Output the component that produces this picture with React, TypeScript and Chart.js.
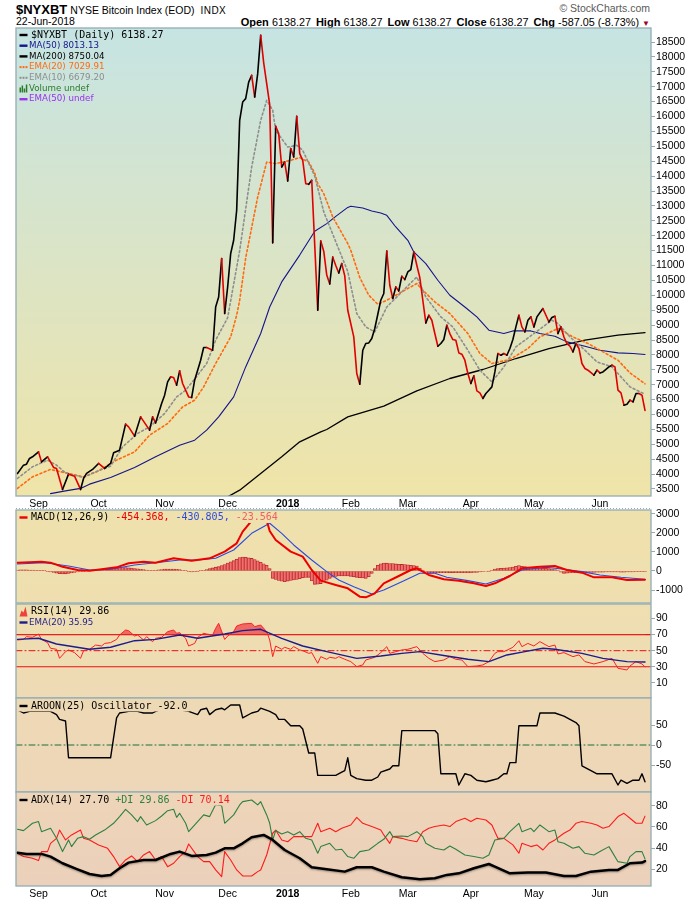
import React, { useEffect, useRef } from "react";
import { Chart, registerables } from "chart.js";

Chart.register(...registerables);

// ---------------- data ----------------
// x values are trading-day numbers (0 = 23-Aug-2017, 209 = 22-Jun-2018)
const MONTH_DAYS = [7, 27, 49, 70, 90, 111, 130, 151, 172, 194];
const MONTH_LABELS = ["Sep", "Oct", "Nov", "Dec", "2018", "Feb", "Mar", "Apr", "May", "Jun"];
const DAY_MIN = -0.5;
const DAY_MAX = 211;

const PRICE_TICKS = [3500, 4000, 4500, 5000, 5500, 6000, 6500, 7000, 7500, 8000, 8500, 9000, 9500, 10000, 10500, 11000, 11500, 12000, 12500, 13000, 13500, 14000, 14500, 15000, 15500, 16000, 16500, 17000, 17500, 18000, 18500];
const MACD_TICKS = [-1000, 0, 1000, 2000, 3000];
const RSI_TICKS = [10, 30, 50, 70, 90];
const AROON_TICKS = [-50, 0, 50];
const ADX_TICKS = [20, 40, 60, 80];
const RSI_BANDS = [70, 30];
const RSI_MID = 50;
const AROON_MID = 0;

const PRICE = [[0,4020],[2,4300],[3,4333],[4,4525],[5,4580],[7,4746],[8,4410],[10,4580],[11,4410],[12,4223],[13,4190],[15,3485],[17,3998],[18,3964],[19,3930],[21,3485],[22,3854],[23,4022],[25,4156],[27,4357],[29,4190],[31,4357],[32,4713],[34,4803],[36,5675],[37,5585],[39,5273],[41,5920],[44,5474],[45,5920],[46,5719],[48,6370],[49,6648],[50,7094],[51,7262],[52,7242],[53,6983],[54,7463],[55,7040],[57,6590],[58,6570],[59,7150],[61,7822],[62,8247],[63,8247],[65,8157],[66,9609],[67,9945],[68,11233],[69,9388],[70,10280],[71,11400],[72,11847],[73,12853],[74,15871],[75,16485],[76,16600],[77,17156],[78,17380],[79,16653],[80,17437],[81,18722],[82,17800],[83,17100],[84,16400],[85,11760],[86,15670],[87,15425],[88,14305],[89,14473],[90,13835],[91,14922],[92,14640],[93,16005],[94,14754],[95,14530],[96,13748],[97,13725],[98,13859],[100,9499],[101,11823],[102,11480],[103,10680],[104,10380],[105,11280],[106,11000],[107,10750],[108,11065],[109,10650],[110,9499],[112,8603],[113,7375],[114,7017],[115,8157],[116,8382],[117,8402],[118,8549],[119,8885],[121,9834],[122,10059],[123,11488],[124,10337],[125,9891],[126,10281],[127,10146],[128,10639],[129,10528],[130,10783],[131,10864],[132,11454],[133,11008],[134,10595],[135,9834],[136,9073],[137,9331],[138,9164],[139,8717],[140,8291],[141,8382],[142,8516],[143,8996],[144,8717],[145,8516],[146,8493],[147,8067],[148,8023],[149,7822],[150,7375],[151,7040],[152,7300],[153,6793],[154,6725],[155,6537],[156,6705],[157,6815],[158,6927],[159,7430],[160,8046],[161,7989],[162,8046],[163,7989],[164,8214],[165,8516],[166,8939],[167,9331],[168,8939],[169,8771],[170,9164],[171,9275],[172,8939],[173,9275],[175,9555],[176,9331],[177,9107],[178,9254],[179,9298],[180,8717],[181,8939],[182,8600],[183,8380],[184,8291],[185,8101],[186,8382],[187,8214],[188,7711],[189,7543],[190,7487],[192,7319],[193,7487],[194,7396],[195,7430],[197,7597],[198,7654],[199,7597],[200,6815],[201,6725],[202,6313],[203,6346],[204,6480],[205,6424],[206,6705],[207,6705],[208,6648],[209,6138]];

const MA50 = [[11,3345],[16,3438],[21,3520],[24,3663],[31,3887],[39,4223],[46,4580],[54,4970],[59,5138],[63,5474],[67,5920],[72,6590],[76,7597],[81,8717],[84,9609],[88,10450],[94,11350],[99,12150],[103,12406],[106,12650],[110,12950],[111,12987],[115,12930],[118,12829],[121,12762],[123,12685],[126,12293],[130,11847],[132,11454],[136,11065],[140,10505],[144,10002],[149,9609],[153,9275],[157,8828],[162,8717],[165,8805],[171,8805],[174,8717],[179,8627],[183,8437],[189,8291],[194,8157],[200,8067],[205,8046],[209,8013]];

const MA200 = [[70,3237],[74,3461],[81,4022],[88,4580],[94,5082],[101,5417],[103,5497],[110,5920],[122,6279],[133,6793],[144,7208],[155,7510],[166,7879],[177,8214],[189,8493],[200,8661],[209,8750]];

const EMA20 = [[0,3520],[5,3908],[11,4156],[16,4042],[22,3908],[27,4110],[33,4468],[39,4746],[44,5306],[50,5698],[55,6255],[59,6480],[62,6927],[66,7711],[71,8603],[73,9331],[74,9834],[76,11250],[80,13299],[83,14473],[86,14419],[91,14530],[94,14620],[97,14473],[99,14100],[100,13748],[102,13413],[105,12628],[110,11736],[111,11511],[114,10600],[117,10002],[120,9700],[123,9834],[128,10114],[133,10394],[135,10170],[139,9777],[144,9388],[150,8717],[154,8046],[158,7711],[164,7845],[170,8214],[174,8603],[180,8885],[185,8603],[190,8382],[194,8157],[200,7822],[204,7396],[209,7030]];

const EMA10 = [[0,3854],[5,4245],[10,4468],[13,4300],[16,4042],[22,3887],[26,4075],[31,4267],[35,4914],[40,5363],[44,5585],[49,6033],[53,6590],[56,6815],[60,7319],[63,7711],[66,8493],[70,9250],[74,11500],[78,14305],[81,15871],[83,16542],[85,16207],[86,15536],[90,14976],[93,15033],[95,14865],[99,14000],[102,12800],[106,11800],[110,10800],[113,9388],[116,8939],[119,8771],[123,9609],[128,10114],[133,10616],[136,9945],[141,9275],[145,8939],[150,8157],[154,7487],[158,7094],[162,7597],[166,8268],[172,8717],[178,9164],[180,9053],[184,8603],[189,8157],[193,7766],[198,7597],[201,7262],[204,6927],[209,6679]];

const MACD = [[0,436],[8,488],[11,436],[15,226],[20,52],[24,17],[28,87],[33,192],[37,402],[42,488],[46,436],[52,665],[58,542],[64,665],[69,1015],[73,1452],[75,2065],[77,2450],[79,2800],[81,2950],[83,2650],[84,2100],[86,1627],[91,1015],[95,752],[98,52],[101,-507],[106,-735],[110,-910],[114,-1349],[116,-1383],[119,-1172],[122,-647],[127,-262],[131,52],[133,140],[137,-210],[142,-437],[147,-507],[152,-647],[156,-787],[159,-647],[164,-262],[168,140],[174,226],[179,262],[183,52],[188,-87],[192,-332],[198,-332],[203,-472],[209,-454]];

const MACD_SIGNAL = [[0,367],[9,436],[17,262],[24,52],[31,87],[39,315],[46,436],[54,577],[60,577],[66,665],[72,1102],[78,1977],[84,2503],[88,1977],[92,1365],[98,577],[103,-35],[107,-472],[112,-822],[118,-1207],[122,-997],[128,-560],[134,-122],[139,-122],[143,-332],[150,-507],[156,-682],[162,-385],[168,52],[176,192],[182,87],[188,-35],[194,-210],[201,-332],[209,-431]];

// one histogram bar per trading day, 0..209
const MACD_HIST = [
  50, 55, 60, 55, 50, 45, 40, 30, 20, 10,
  -20, -50, -80, -110, -140, -157, -150, -130, -100, -70,
  -50, -30, -15, 0, 15, 30, 45, 60, 75, 90,
  110, 130, 150, 165, 175, 180, 175, 165, 150, 130,
  110, 90, 70, 50, 40, 30, 40, 60, 80, 100,
  105, 105, 100, 90, 70, 40, 10, -40, -50, -30,
  -10, 10, 40, 80, 120, 160, 200, 227, 280, 340,
  420, 480, 540, 620, 700, 735, 720, 690, 660, 600,
  530, 460, 380, 300, 120, -385, -440, -500, -540, -560,
  -530, -500, -472, -440, -400, -360, -340, -332, -520, -700,
  -690, -660, -580, -480, -385, -330, -290, -262, -260, -262,
  -262, -280, -300, -332, -350, -370, -385, -300, -122, 120,
  300, 380, 420, 410, 395, 385, 370, 355, 345, 335,
  320, 300, 285, 260, 150, 52, -40, -122, -110, -100,
  -95, -90, -87, -87, -85, -85, -87, -90, -90, -88,
  -87, -87, -80, -70, -55, -40, -25, -10, 40, 100,
  120, 140, 155, 165, 175, 210, 250, 280, 250, 227,
  200, 185, 170, 160, 150, 145, 140, 120, 100, 75,
  52, -60, -122, -110, -100, -95, -90, -87, -85, -80,
  -75, -70, -70, -65, -60, -60, -55, -55, -50, -50,
  -55, -60, -60, -55, -50, -45, -40, -35, -30, -24,
];

const RSI = [[0,63.3],[2,64],[3,67.4],[5,66.6],[7,70.7],[8,64],[10,60],[11,53],[13,51.7],[14,40.5],[16,48.8],[17,50.9],[19,47.6],[21,40.5],[22,50],[24,51.7],[26,57],[28,55.8],[29,59],[31,60],[33,64],[34,69.5],[36,75.7],[37,74.9],[39,68.2],[40,69.5],[42,63.3],[43,67.4],[45,61.2],[46,65.4],[48,66.6],[50,73.6],[52,75.7],[53,71.6],[54,72.4],[56,65.4],[57,55.8],[59,59],[60,66.6],[62,71.6],[63,70.7],[65,69.5],[66,77.8],[67,84],[69,64],[70,68.2],[72,73.6],[73,80.7],[75,83.2],[78,84],[79,79.9],[81,81.9],[83,73.6],[84,63.3],[85,42.6],[86,55.8],[88,51.7],[89,54.2],[91,51.7],[92,55],[94,50.9],[95,50],[97,46.7],[98,47.6],[100,34.3],[101,42.6],[103,39.3],[104,41.8],[106,40.5],[107,42.6],[109,39.3],[111,36.4],[113,30.2],[115,32.3],[116,38.4],[119,41.8],[121,47.6],[123,55],[124,46.7],[126,48.8],[128,50.9],[130,51.7],[133,55],[135,46.7],[137,40.5],[139,36.4],[142,38.4],[144,42.6],[146,39.3],[148,38.4],[150,30.2],[153,31],[155,32.3],[157,36.4],[159,46.7],[160,48.8],[162,48.8],[165,54.2],[167,62.4],[168,55],[170,59],[172,55.8],[174,61.2],[177,55],[179,57],[180,45.9],[182,47.6],[185,42.6],[187,44.7],[189,36.4],[192,33.5],[195,36.4],[198,40.5],[200,28.1],[203,26],[204,31],[206,36.4],[208,33.5],[209,29.86]];

const RSI_EMA = [[0,64],[7,65.4],[13,58.3],[24,51.7],[31,54.2],[39,62.4],[46,64],[54,69.5],[60,65.4],[69,70.7],[75,74.9],[81,76.6],[88,65.4],[95,55.8],[103,48.8],[113,40.5],[121,43.4],[128,46.7],[134,48.8],[143,43.4],[150,39.3],[157,36.4],[163,44.7],[169,48.8],[175,53],[179,51.7],[188,46.7],[195,40.5],[203,36.4],[209,35.95]];

const AROON = [[0,88],[2,80],[4,84],[8,84],[11,84],[13,76],[14,64],[16,60],[17,-32],[31,-32],[33,68],[34,80],[37,84],[40,84],[42,80],[45,80],[46,84],[49,92],[52,92],[54,88],[57,84],[60,76],[61,88],[63,92],[64,76],[66,88],[68,92],[69,88],[71,100],[74,100],[75,68],[78,80],[80,84],[81,92],[84,84],[86,76],[87,64],[89,64],[91,48],[94,48],[95,40],[97,-20],[99,-20],[100,-76],[106,-76],[108,-68],[109,-64],[110,-32],[111,-76],[113,-84],[116,-88],[118,-88],[120,-80],[121,-68],[124,-60],[125,-52],[127,-52],[128,36],[139,36],[140,28],[141,-72],[146,-72],[147,-100],[149,-72],[151,-76],[153,-88],[156,-92],[158,-88],[160,-84],[162,-72],[163,-72],[164,-44],[166,-44],[167,48],[173,48],[174,80],[179,80],[182,72],[184,64],[186,56],[187,48],[188,-52],[191,-64],[193,-72],[198,-72],[200,-100],[201,-88],[203,-96],[205,-88],[207,-88],[208,-72],[209,-92]];

const ADX = [[0,35.7],[3,34.5],[8,34.5],[11,32],[15,25.7],[20,20],[24,15.6],[28,13.7],[31,14.7],[34,21],[37,26.3],[42,28.8],[46,28.8],[51,34.5],[54,36.7],[58,32.6],[63,33.5],[66,35.7],[69,39.8],[72,39.8],[75,44.5],[78,50.2],[82,52.4],[85,47.7],[89,38.2],[94,30.4],[98,21.9],[103,20],[109,17.8],[113,21.9],[118,21.9],[122,17.8],[128,12.5],[134,10.6],[139,11.5],[143,14.7],[147,16.2],[152,21],[157,25],[159,22.5],[164,16.2],[170,16.9],[176,16.9],[182,13.7],[186,13.7],[191,17.8],[197,19.4],[200,19.4],[204,25.7],[208,26.3],[209,27.7]];

const PLUS_DI = [[0,57.7],[2,56.5],[5,63.4],[7,65],[8,55.5],[11,58.7],[13,49.2],[15,36.7],[17,47.7],[18,41.4],[20,49.2],[22,50.8],[24,48.3],[26,52.4],[29,57],[32,63.4],[34,69.7],[36,76.6],[38,71.3],[40,65],[41,69.7],[43,61.8],[46,65.9],[48,70.3],[50,75.3],[52,76.6],[53,69],[54,72.8],[56,63.4],[57,55.5],[60,65],[62,71.3],[64,69.7],[66,81],[68,80],[69,63.4],[72,71.3],[74,80.7],[75,83.8],[78,85.4],[80,80.7],[81,83.8],[83,71.3],[84,63.4],[85,47.7],[86,56.5],[88,53.3],[90,55.5],[92,52.4],[94,55.5],[96,49.2],[98,47.7],[100,35.1],[101,41.4],[104,44.5],[106,38.2],[108,38.9],[110,32],[112,30.4],[114,36.7],[117,38.2],[120,44.5],[122,48.3],[124,55.5],[125,50.8],[128,51.4],[130,50.8],[133,55.5],[135,50.8],[136,44.5],[139,39.8],[142,38.2],[144,42],[146,38.9],[149,33.5],[152,32],[155,30.4],[157,33.5],[159,47.7],[162,49.2],[164,55.5],[167,63.4],[168,55.5],[171,58.7],[172,55.5],[174,61.8],[177,55.5],[179,57],[180,46],[182,44.5],[185,39.8],[187,41.4],[189,35.1],[192,33.5],[194,36.7],[197,41.4],[198,36.7],[200,27.2],[203,25.7],[204,32],[206,36.7],[208,36.7],[209,29.86]];

const MINUS_DI = [[0,35.1],[2,32],[5,30.4],[7,28.2],[8,36.7],[10,36.7],[11,44.5],[13,49.2],[14,57],[16,47.7],[18,52.4],[21,57],[22,49.2],[24,47.7],[27,43],[30,39.8],[32,32],[34,22.5],[36,28.8],[38,32.6],[40,27.2],[42,33.5],[44,36.7],[46,28.8],[48,32],[50,22.5],[52,25.7],[54,32],[56,36.7],[57,43.9],[60,32],[62,27.2],[64,27.2],[66,19.4],[68,13.1],[69,36.7],[71,28.8],[73,19.4],[75,13.7],[78,13.7],[80,17.8],[81,19.4],[83,33.5],[85,54],[86,57],[88,47.7],[90,46],[92,50.8],[95,50.8],[98,50.8],[100,63.4],[101,55.5],[104,58.7],[106,55.5],[108,58.7],[111,61.8],[113,69],[115,63.4],[118,60.3],[121,57],[122,52.4],[124,44.5],[125,50.8],[128,49.2],[130,47.7],[133,46],[135,55.5],[137,58.7],[139,60.3],[142,61.8],[144,60.3],[146,65],[149,68.1],[151,65],[153,68.1],[156,66.5],[158,61.8],[160,49.2],[162,49.2],[165,43],[167,35.1],[168,44.5],[171,41.4],[173,43],[175,38.2],[177,44.5],[179,47.7],[182,54],[184,57],[186,63.4],[188,65],[191,63.4],[193,61.8],[195,58.7],[197,60.3],[200,69.7],[202,72.8],[204,68.1],[206,63.4],[208,63.4],[209,70.14]];

// ---------------- styling ----------------
const SANS = "'Liberation Sans', Arial, Helvetica, sans-serif";
const PROP_FONT = "8.7px 'DejaVu Sans', Verdana, sans-serif";
const MONO_FONT = "10px 'DejaVu Sans Mono', 'Liberation Mono', monospace";
const FRAME = "#93adb4";

const xy = (pairs: number[][]) => pairs.map((p) => ({ x: p[0], y: p[1] }));

function xScale(show: boolean, h: number) {
  return {
    type: "linear",
    min: DAY_MIN,
    max: DAY_MAX,
    offset: false,
    display: show,
    afterBuildTicks: (s: any) => {
      s.ticks = MONTH_DAYS.map((v) => ({ value: v }));
    },
    afterFit: (s: any) => {
      s.height = h;
    },
    grid: { drawOnChartArea: false, drawTicks: false },
    border: { display: false },
    ticks: {
      autoSkip: false,
      maxRotation: 0,
      padding: 2,
      color: "#000",
      font: (c: any) => ({ family: SANS, size: 10.5, weight: c.index === 4 ? "bold" : "normal" }),
      callback: (v: any) => {
        const k = MONTH_DAYS.indexOf(v);
        return k >= 0 ? MONTH_LABELS[k] : "";
      },
    },
  };
}

function yScale(min: number, max: number, ticks: number[]) {
  return {
    type: "linear",
    position: "right",
    min,
    max,
    afterBuildTicks: (s: any) => {
      s.ticks = ticks.map((v) => ({ value: v }));
    },
    afterFit: (s: any) => {
      s.width = 49;
    },
    grid: { drawOnChartArea: false, drawTicks: true, tickLength: 4, color: FRAME },
    border: { display: false },
    ticks: { autoSkip: false, padding: 1, color: "#000", font: { family: SANS, size: 10.5 }, callback: (v: any) => String(v) },
  };
}

function drawMarker(ctx: CanvasRenderingContext2D, kind: string, color: string, x: number, y: number) {
  ctx.save();
  ctx.fillStyle = color;
  if (kind === "line") ctx.fillRect(x, y - 1.2, 8, 2.4);
  else if (kind === "dots") {
    for (let k = 0; k < 3; k++) ctx.fillRect(x + k * 3, y - 1, 2, 2);
  } else if (kind === "bars") {
    const hs = [5, 7, 4, 8];
    hs.forEach((h, k) => ctx.fillRect(x + k * 2.1, y + 4 - h, 1.5, h));
  } else if (kind === "area") {
    ctx.beginPath();
    ctx.moveTo(x, y + 5);
    ctx.lineTo(x + 2, y - 1);
    ctx.lineTo(x + 4, y + 1);
    ctx.lineTo(x + 6, y - 5);
    ctx.lineTo(x + 8, y + 5);
    ctx.closePath();
    ctx.fill();
  }
  ctx.restore();
}

type Part = { t: string; c: string };
type Row = { y: number; mark: string; mc: string; mono?: boolean; parts: Part[] };

function panelPlugin(bgTop: string, bgBottom: string, rows: Row[], dotted?: boolean) {
  let grad: any = null;
  return {
    id: "panel",
    beforeDraw(chart: any) {
      const { ctx, chartArea: a } = chart;
      grad = ctx.createLinearGradient(0, a.top, 0, a.bottom);
      grad.addColorStop(0, bgTop);
      grad.addColorStop(1, bgBottom);
      ctx.save();
      ctx.fillStyle = grad;
      ctx.fillRect(a.left, a.top, a.right - a.left, a.bottom - a.top);
      ctx.restore();
    },
    afterDatasetsDraw(chart: any) {
      const { ctx, chartArea: a } = chart;
      ctx.save();
      ctx.textBaseline = "middle";
      for (const r of rows) {
        ctx.font = r.mono ? MONO_FONT : PROP_FONT;
        const y = a.top + r.y;
        let w = 0;
        for (const p of r.parts) w += ctx.measureText(p.t).width;
        ctx.fillStyle = grad;
        ctx.fillRect(a.left + 1, y - 5.5, 16 + w, 11);
        drawMarker(ctx, r.mark, r.mc, a.left + 3.5, y);
        let x = a.left + (r.mono ? 15 : 13);
        for (const p of r.parts) {
          ctx.fillStyle = p.c;
          ctx.fillText(p.t, x, y);
          x += ctx.measureText(p.t).width;
        }
      }
      ctx.strokeStyle = FRAME;
      ctx.lineWidth = 1.3;
      ctx.strokeRect(a.left, a.top, a.right - a.left, a.bottom - a.top);
      if (dotted) {
        ctx.setLineDash([1, 2]);
        ctx.lineWidth = 1;
        ctx.beginPath();
        ctx.moveTo(a.left, a.bottom + 12.5);
        ctx.lineTo(a.right, a.bottom + 12.5);
        ctx.stroke();
      }
      ctx.restore();
    },
  };
}

function baseOptions(yMin: number, yMax: number, ticks: number[], showX: boolean, xh: number, padBottom: number) {
  return {
    responsive: false,
    maintainAspectRatio: false,
    animation: false,
    events: [],
    layout: { padding: { left: 16, right: 0, top: 10, bottom: padBottom } },
    plugins: { legend: { display: false }, tooltip: { enabled: false } },
    elements: { point: { radius: 0, hoverRadius: 0 }, line: { tension: 0, borderJoinStyle: "round", borderCapStyle: "round" } },
    scales: { x: xScale(showX, xh), y: yScale(yMin, yMax, ticks) },
  };
}

const span = (v: number) => [{ x: DAY_MIN, y: v }, { x: DAY_MAX, y: v }];

function mainConfig(): any {
  return {
    type: "line",
    data: {
      datasets: [
        {
          data: xy(PRICE),
          borderColor: "#000",
          borderWidth: 1.6,
          segment: { borderColor: (c: any) => (c.p1.parsed.y < c.p0.parsed.y ? "#e00000" : "#000") },
        },
        { data: xy(EMA10), borderColor: "#8e8e8e", borderWidth: 1.6, borderDash: [2, 2.5] },
        { data: xy(EMA20), borderColor: "#ff6a10", borderWidth: 1.6, borderDash: [2, 2.5] },
        { data: xy(MA50), borderColor: "#14148c", borderWidth: 1.1 },
        { data: xy(MA200), borderColor: "#000", borderWidth: 1.3 },
      ],
    },
    options: baseOptions(3265, 18970, PRICE_TICKS, true, 16, 0),
    plugins: [
      panelPlugin(
        "#c6e4e3",
        "#f0e4a8",
        [
          { y: 7, mark: "line", mc: "#000", mono: true, parts: [{ t: "$NYXBT (Daily) 6138.27", c: "#000" }] },
          { y: 17.7, mark: "line", mc: "#14148c", parts: [{ t: "MA(50) 8013.13", c: "#14148c" }] },
          { y: 28.4, mark: "line", mc: "#000", parts: [{ t: "MA(200) 8750.04", c: "#000" }] },
          { y: 39.1, mark: "dots", mc: "#ff6a10", parts: [{ t: "EMA(20) 7029.91", c: "#ff6a10" }] },
          { y: 49.8, mark: "dots", mc: "#8e8e8e", parts: [{ t: "EMA(10) 6679.20", c: "#8e8e8e" }] },
          { y: 60.5, mark: "bars", mc: "#2a7a2a", parts: [{ t: "Volume undef", c: "#2a7a2a" }] },
          { y: 71.2, mark: "line", mc: "#9a30f0", parts: [{ t: "EMA(50) undef", c: "#9a30f0" }] },
        ],
        true
      ),
    ],
  };
}

function macdConfig(): any {
  return {
    type: "line",
    data: {
      datasets: [
        { data: xy(MACD), borderColor: "#ee0000", borderWidth: 2 },
        { data: xy(MACD_SIGNAL), borderColor: "#2a4ae0", borderWidth: 1.1 },
        {
          type: "bar",
          data: MACD_HIST.map((v, i) => ({ x: i, y: v })),
          backgroundColor: "#f07070",
          borderColor: "#b82828",
          borderWidth: 0.8,
          borderSkipped: false,
          barThickness: 3,
        },
      ],
    },
    options: baseOptions(-1680, 3200, MACD_TICKS, false, 0, 10),
    plugins: [
      panelPlugin("#efe1ad", "#efdfb0", [
        {
          y: 7.5,
          mark: "line",
          mc: "#ee0000",
          mono: true,
          parts: [
            { t: "MACD(12,26,9) ", c: "#000" },
            { t: "-454.368, ", c: "#ee0000" },
            { t: "-430.805, ", c: "#2a4ae0" },
            { t: "-23.564", c: "#f06060" },
          ],
        },
      ]),
    ],
  };
}

function rsiConfig(): any {
  return {
    type: "line",
    data: {
      datasets: [
        { data: xy(RSI_EMA), borderColor: "#1c1c8c", borderWidth: 1.4 },
        {
          data: xy(RSI),
          borderColor: "#ff2020",
          borderWidth: 1,
          fill: { target: { value: RSI_BANDS[0] }, above: "rgba(238,92,92,0.9)", below: "rgba(0,0,0,0)" },
        },
        { data: span(RSI_BANDS[0]), borderColor: "#e81010", borderWidth: 1.2 },
        { data: span(RSI_BANDS[1]), borderColor: "#e81010", borderWidth: 1.2 },
        { data: span(RSI_MID), borderColor: "#e81010", borderWidth: 1, borderDash: [6, 3, 1, 3] },
      ],
    },
    options: baseOptions(-8.8, 108, RSI_TICKS, false, 0, 10),
    plugins: [
      panelPlugin("#efdfb0", "#eedab5", [
        { y: 7.5, mark: "area", mc: "#ee4040", mono: true, parts: [{ t: "RSI(14) 29.86", c: "#000" }] },
        { y: 18.5, mark: "line", mc: "#1c1c8c", parts: [{ t: "EMA(20) 35.95", c: "#1c1c8c" }] },
      ]),
    ],
  };
}

function aroonConfig(): any {
  return {
    type: "line",
    data: {
      datasets: [
        { data: xy(AROON), borderColor: "#000", borderWidth: 1.4 },
        { data: span(AROON_MID), borderColor: "#16703a", borderWidth: 1, borderDash: [6, 3, 1, 3] },
      ],
    },
    options: baseOptions(-117.5, 117.5, AROON_TICKS, false, 0, 10),
    plugins: [
      panelPlugin("#eed9b5", "#eed6b8", [
        { y: 8, mark: "line", mc: "#000", mono: true, parts: [{ t: "AROON(25) Oscillator -92.0", c: "#000" }] },
      ]),
    ],
  };
}

const adxShadow = {
  id: "adxShadow",
  beforeDatasetDraw(chart: any, args: any) {
    if (args.index !== 0) return;
    const ctx = chart.ctx;
    ctx.save();
    ctx.shadowColor = "rgba(0,0,0,0.35)";
    ctx.shadowBlur = 2;
    ctx.shadowOffsetY = 1;
  },
  afterDatasetDraw(chart: any, args: any) {
    if (args.index !== 0) return;
    chart.ctx.restore();
  },
};

function adxConfig(): any {
  return {
    type: "line",
    data: {
      datasets: [
        { data: xy(ADX), borderColor: "#000", borderWidth: 2.5 },
        { data: xy(PLUS_DI), borderColor: "#2e8040", borderWidth: 1.1 },
        { data: xy(MINUS_DI), borderColor: "#ff1a1a", borderWidth: 1.1 },
      ],
    },
    options: baseOptions(4.25, 92.9, ADX_TICKS, true, 14, 0),
    plugins: [
      adxShadow,
      panelPlugin("#eed5b8", "#ebd0bb", [
        {
          y: 8,
          mark: "line",
          mc: "#000",
          mono: true,
          parts: [
            { t: "ADX(14) 27.70 ", c: "#000" },
            { t: "+DI 29.86 ", c: "#2e8040" },
            { t: "-DI 70.14", c: "#ff1a1a" },
          ],
        },
      ]),
    ],
  };
}

// canvas placement on the page (top, height)
const LAYOUT = [
  { top: 18, h: 494 },
  { top: 500, h: 113 },
  { top: 594, h: 114 },
  { top: 688, h: 114 },
  { top: 782, h: 118 },
];

export default function App() {
  const refs = [useRef<HTMLCanvasElement>(null), useRef<HTMLCanvasElement>(null), useRef<HTMLCanvasElement>(null), useRef<HTMLCanvasElement>(null), useRef<HTMLCanvasElement>(null)];

  useEffect(() => {
    const makers = [mainConfig, macdConfig, rsiConfig, aroonConfig, adxConfig];
    const charts = makers.map((mk, k) => new Chart(refs[k].current as HTMLCanvasElement, mk()));
    return () => charts.forEach((c) => c.destroy());
  }, []);

  const lab = { fontWeight: "bold" as const, fontSize: 11 };
  const val = { fontSize: 10.8, marginRight: 5 };

  return (
    <div style={{ position: "fixed", left: 0, top: 0, width: 700, height: 900, background: "#fff", overflow: "hidden", fontFamily: SANS, color: "#000" }}>
      <div style={{ position: "absolute", left: 16, top: 1, whiteSpace: "nowrap", lineHeight: "15px" }}>
        <span style={{ fontWeight: "bold", fontSize: 13 }}>$NYXBT</span>
        <span style={{ fontSize: 10.5, marginLeft: 3 }}>NYSE Bitcoin Index (EOD)</span>
        <span style={{ fontSize: 10, marginLeft: 6, letterSpacing: 0.4 }}>INDX</span>
      </div>
      <div style={{ position: "absolute", left: 16, top: 15, fontSize: 10.5, lineHeight: "12px", whiteSpace: "nowrap" }}>22-Jun-2018</div>
      <div style={{ position: "absolute", right: 50, top: 2, fontSize: 10.5, lineHeight: "12px", color: "#5a5a5a", whiteSpace: "nowrap" }}>© StockCharts.com</div>
      <div style={{ position: "absolute", right: 50, top: 15, lineHeight: "12px", whiteSpace: "nowrap" }}>
        <span style={lab}>Open </span>
        <span style={val}>6138.27</span>
        <span style={lab}>High </span>
        <span style={val}>6138.27</span>
        <span style={lab}>Low </span>
        <span style={val}>6138.27</span>
        <span style={lab}>Close </span>
        <span style={val}>6138.27</span>
        <span style={lab}>Chg </span>
        <span style={{ fontSize: 10.8 }}>-587.05 (-8.73%)</span>
        <span style={{ fontSize: 8, color: "#990033", marginLeft: 3 }}>▼</span>
      </div>
      {LAYOUT.map((p, k) => (
        <canvas
          key={k}
          ref={refs[k]}
          width={700}
          height={p.h}
          style={{ position: "absolute", left: 0, top: p.top, width: 700, height: p.h }}
        />
      ))}
    </div>
  );
}
